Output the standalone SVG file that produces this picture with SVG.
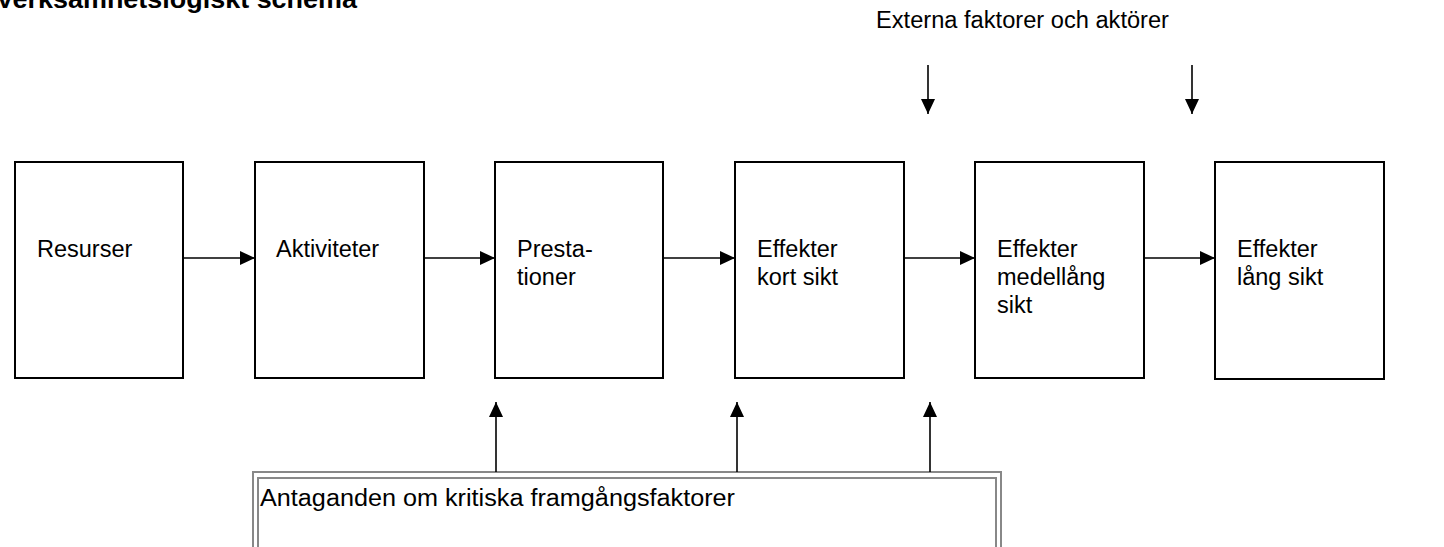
<svg xmlns="http://www.w3.org/2000/svg" width="1444" height="547" viewBox="0 0 1444 547">
<style>
text{font-family:"Liberation Sans",Arial,sans-serif;font-size:23.5px;fill:#000}
.title{font-weight:bold;font-size:26px}
.box{fill:#fff;stroke:#000;stroke-width:2}
.ln{stroke:#000;stroke-width:1.6;fill:none}
.dbl{fill:none;stroke:#888;stroke-width:2}
</style>
<defs>
<marker id="ah" markerWidth="15" markerHeight="14" refX="15" refY="7" orient="auto" markerUnits="userSpaceOnUse">
<path d="M0,0 L15,7 L0,14 Z" fill="#000"/>
</marker>
</defs>
<rect width="1444" height="547" fill="#fff"/>
<text class="title" x="-4" y="8" textLength="361" lengthAdjust="spacingAndGlyphs">Verksamhetslogiskt schema</text>
<text id="externa" x="876" y="28" textLength="293" lengthAdjust="spacingAndGlyphs">Externa faktorer och aktörer</text>
<g id="n1"><rect class="box" x="15" y="162" width="168" height="216"/><text x="37" y="257">Resurser</text></g>
<g id="n2"><rect class="box" x="255" y="162" width="169" height="216"/><text x="276" y="257">Aktiviteter</text></g>
<g id="n3"><rect class="box" x="495" y="162" width="168" height="216"/><text x="517" y="257">Presta-</text><text x="517" y="285">tioner</text></g>
<g id="n4"><rect class="box" x="735" y="162" width="169" height="216"/><text x="757" y="257">Effekter</text><text x="757" y="285">kort sikt</text></g>
<g id="n5"><rect class="box" x="975" y="162" width="169" height="216"/><text x="997" y="257">Effekter</text><text x="997" y="285">medellång</text><text x="997" y="313">sikt</text></g>
<g id="n6"><rect class="box" x="1215" y="162" width="169" height="217"/><text x="1237" y="257">Effekter</text><text x="1237" y="285">lång sikt</text></g>
<g id="n7"><rect class="dbl" x="253" y="472" width="748" height="90"/><rect class="dbl" x="258" y="478" width="738" height="80"/><text x="260" y="506" textLength="475" lengthAdjust="spacingAndGlyphs">Antaganden om kritiska framgångsfaktorer</text></g>
<g id="connectors">
<line class="ln" x1="184" y1="258" x2="255" y2="258" marker-end="url(#ah)"/>
<line class="ln" x1="425" y1="258" x2="495" y2="258" marker-end="url(#ah)"/>
<line class="ln" x1="664" y1="258" x2="735" y2="258" marker-end="url(#ah)"/>
<line class="ln" x1="905" y1="258" x2="975" y2="258" marker-end="url(#ah)"/>
<line class="ln" x1="1145" y1="258" x2="1215" y2="258" marker-end="url(#ah)"/>
<line class="ln" x1="928" y1="65" x2="928" y2="114" marker-end="url(#ah)"/>
<line class="ln" x1="1192" y1="65" x2="1192" y2="114" marker-end="url(#ah)"/>
<line class="ln" x1="496" y1="472" x2="496" y2="402" marker-end="url(#ah)"/>
<line class="ln" x1="737" y1="472" x2="737" y2="402" marker-end="url(#ah)"/>
<line class="ln" x1="930" y1="472" x2="930" y2="402" marker-end="url(#ah)"/>
</g>
</svg>
